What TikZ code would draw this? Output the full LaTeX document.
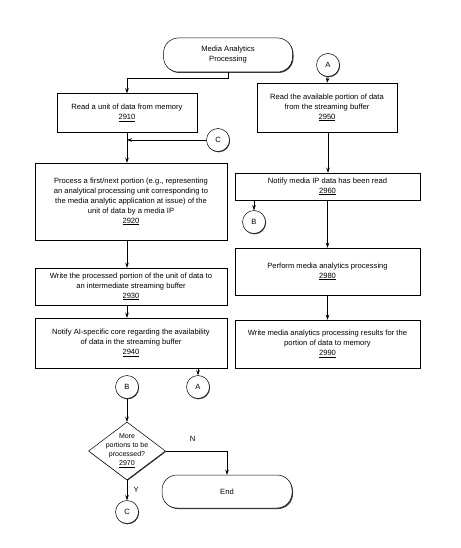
\documentclass[tikz,border=0pt]{standalone}
\usepackage{fontspec}
\setmainfont{Liberation Sans}
\usetikzlibrary{arrows.meta,shapes.geometric,shadows}

\tikzset{
  stepbox/.style={draw, line width=0.5pt, fill=white, align=center, inner sep=1pt,
    font=\fontsize{7.6}{10}\selectfont,
    drop shadow={shadow xshift=1pt, shadow yshift=-1pt, fill=black!75, opacity=1}},
  termbox/.style={stepbox, rounded corners=15pt},
  conn/.style={draw, circle, line width=0.5pt, fill=white, minimum size=23pt, inner sep=0pt,
    font=\fontsize{7.6}{8}\selectfont,
    drop shadow={shadow xshift=0.6pt, shadow yshift=-0.8pt, fill=black!75, opacity=1}},
  flow/.style={line width=0.5pt, -{Stealth[length=5pt, width=3.5pt]}}
}

\begin{document}
\begin{tikzpicture}[x=1pt, y=-1pt]
  \useasboundingbox (0,0) rectangle (460,548);
  \coordinate (colL) at (127,0);

  % start
  \node[termbox, minimum width=129pt, minimum height=34pt] (start) at (228,55) {Media Analytics\\Processing};

  % left column
  \node[stepbox, minimum width=140pt, minimum height=39pt] (b2910) at (127,113)
    {Read a unit of data from memory\\\underline{2910}};
  \node[conn] (cC1) at (218,140) {C};
  \node[stepbox, minimum width=192pt, minimum height=77pt] (b2920) at (131,201.5)
    {Process a first/next portion (e.g., representing\\an analytical processing unit corresponding to\\the media analytic application at issue) of the\\unit of data by a media IP\\\underline{2920}};
  \node[stepbox, minimum width=192pt, minimum height=37pt] (b2930) at (131,286.5)
    {Write the processed portion of the unit of data to\\an intermediate streaming buffer\\\underline{2930}};
  \node[stepbox, minimum width=192pt, minimum height=50pt] (b2940) at (131,343)
    {Notify AI-specific core regarding the availability\\of data in the streaming buffer\\\underline{2940}};
  \node[conn] (cB2) at (127,387) {B};
  \node[conn] (cA1) at (198,387) {A};

  % decision
  \node[draw, diamond, line width=0.5pt, minimum width=77pt, minimum height=58pt, inner sep=0pt,
    drop shadow={shadow xshift=0.6pt, shadow yshift=-0.8pt, fill=black!75, opacity=1}, fill=white] (d2970) at (127,451) {};
  \node[align=center, font=\fontsize{7}{9}\selectfont, inner sep=0pt] (t2970) at (d2970.center)
    {More\\portions to be\\processed?\\\underline{2970}};
  \node[conn] (cC2) at (127,512) {C};
  \node[termbox, minimum width=130pt, minimum height=33pt] (end) at (227,491.5) {End};

  % right column
  \node[conn] (cA2) at (328,65) {A};
  \node[stepbox, minimum width=140pt, minimum height=49pt] (b2950) at (327,107.5)
    {Read the available portion of data\\from the streaming buffer\\\underline{2950}};
  \node[stepbox, minimum width=185pt, minimum height=27pt] (b2960) at (327.5,186.5)
    {Notify media IP data has been read\\\underline{2960}};
  \node[conn] (cB1) at (254,222) {B};
  \node[stepbox, minimum width=185pt, minimum height=47pt] (b2980) at (327.5,271.5)
    {Perform media analytics processing\\\underline{2980}};
  \node[stepbox, minimum width=185pt, minimum height=48pt] (b2990) at (327.5,344)
    {Write media analytics processing results for the\\portion of data to memory\\\underline{2990}};

  % connectors, left
  \draw[flow] (start.south) -- ++(0,6) -| (b2910.north);
  \draw[flow] (cC1.west) -- (cC1.west -| colL);
  \draw[flow] (b2910.south) -- (b2910.south |- b2920.north);
  \draw[flow] (b2920.south -| colL) -- (b2930.north -| colL);
  \draw[flow] (b2930.south -| colL) -- (b2940.north -| colL);
  \draw[flow] (b2940.south -| cA1) -- (cA1.north);
  \draw[flow] (cB2.south) -- (d2970.north);
  \draw[flow] (d2970.east) -| (end.north) node[pos=0.22, above=6pt, font=\fontsize{7.6}{8}\selectfont] {N};
  \draw[flow] (d2970.south) -- (cC2.north) node[midway, right=3pt, font=\fontsize{7.6}{8}\selectfont] {Y};

  % connectors, right
  \draw[flow] (cA2.south) -- (b2950.north);
  \draw[flow] (b2950.south -| cA2) -- (b2960.north -| cA2);
  \draw[flow] (b2960.south -| cB1) -- (cB1.north);
  \draw[flow] (b2960.south) -- (b2980.north);
  \draw[flow] (b2980.south) -- (b2990.north);
\end{tikzpicture}
\end{document}
